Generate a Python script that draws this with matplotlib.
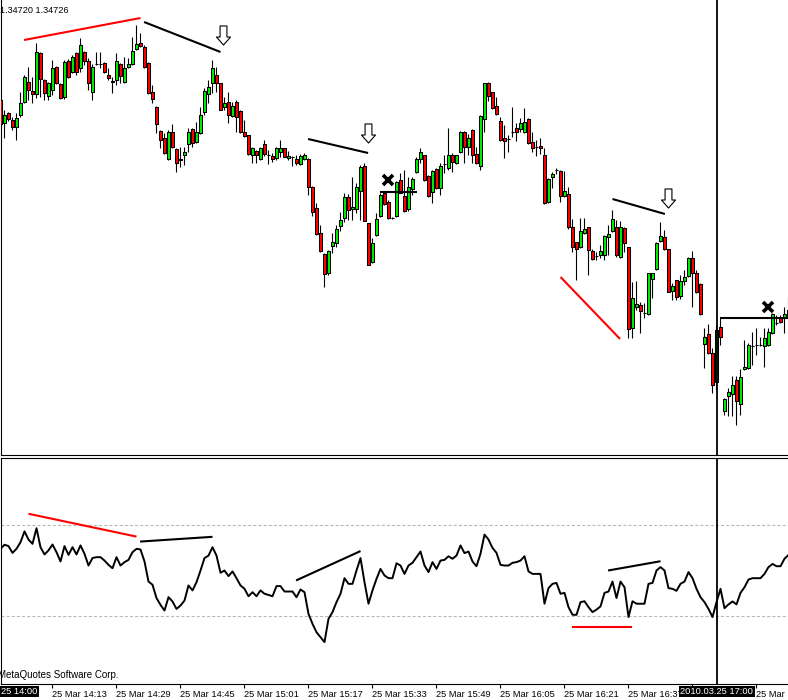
import matplotlib
matplotlib.use("Agg")
import matplotlib.pyplot as plt
import numpy as np
from matplotlib.path import Path
from matplotlib.patches import Rectangle
from matplotlib.collections import PatchCollection
import matplotlib.transforms as mtransforms

plt.rcParams['font.family'] = ['Liberation Sans', 'DejaVu Sans']
plt.rcParams['lines.scale_dashes'] = False

# ---------------- data ----------------
BASE_PRICE = 1.34575      # price = BASE_PRICE + points * POINT
POINT = 0.00001
START = "14:00"           # first 1-minute bar, 25 Mar 2010

open_pts = [360,337,347,340,333,345,358,378,369,366, 407,380,364,370,393,376,363,399,388,407,
            392,408,399,368,396,396,397,385,379,380, 396,378,393,396,411,417,413,397,368,353,
            329,322,301,328,311,301,305,316,331,318, 327,348,366,377,385,377,353,358,344,358,
            349,328,325,305,309,301,316,305,304,302, 308,312,302,303,301,296,301,301,273,252,
            227,206,187,214,217,234,242,263,251,251, 269,294,237,198,225,244,267,258,242,244,
            280,264,251,271,288,301,305,284,268,291, 272,296,292,305,297,308,328,313,330,306,
            294,341,377,368,354,339,322,321,328,332, 331,328,341,318,313,314,305,258,283,290,
            289,264,266,233,218,213,227,233,209,204, 205,205,223,229,233,203,232,213,132,153,
            155,147,146,181,191,219,223,211,169,180, 164,179,184,202,187,176,116,126,107,78,
            133,49,64,66,80,56,91,92,114,115, 115,114,115,127,137,142,143,144]
high_pts = [362,350,348,343,347,368,385,393,383,417, 408,381,378,400,394,377,400,401,405,408,
            422,409,402,396,408,408,398,392,383,407, 397,403,402,423,435,427,415,398,375,354,
            330,327,330,336,312,313,313,332,332,338, 353,372,380,400,393,377,363,368,358,360,
            350,340,325,313,310,313,320,310,307,313, 320,312,309,304,305,306,307,302,274,257,
            235,207,210,227,235,248,267,266,283,277, 295,297,237,222,247,267,268,260,243,279,
            287,290,283,283,303,312,305,285,290,292, 297,305,332,307,305,329,329,326,331,313,
            345,377,378,368,363,343,335,325,353,337, 342,352,342,328,320,322,312,282,288,292,
            290,289,273,241,218,242,242,233,211,208, 215,225,235,250,240,239,233,213,178,179,
            158,157,187,187,218,238,230,211,177,180, 185,190,203,209,190,177,132,136,112,135,
            142,62,72,84,84,91,120,117,128,132, 123,132,132,147,145,145,153,163]
low_pts = [333,322,339,330,320,343,357,360,357,362, 363,360,360,365,376,361,361,382,387,385,
           388,395,370,360,395,392,387,380,367,375, 377,377,392,395,410,413,392,366,357,327,
           312,306,300,312,288,293,295,308,313,317, 326,345,357,367,368,350,350,337,343,328,
           327,323,305,297,297,300,304,296,298,300, 303,303,300,294,295,295,300,265,244,225,
           208,173,185,207,213,229,238,240,240,247, 240,239,195,197,224,243,255,241,241,243,
           267,248,249,265,287,297,279,263,257,271, 265,287,290,288,296,307,297,305,297,296,
           290,328,359,351,345,319,302,308,323,319, 328,327,316,308,304,306,256,257,272,286,
           258,263,231,208,180,212,226,185,200,200, 202,200,205,228,203,202,208,122,122,150,
           127,142,145,162,190,218,210,168,160,160, 161,175,183,153,167,145,92,106,67,70,
           115,45,44,44,35,45,90,91,95,105, 114,93,114,126,135,137,127,143]
close_pts = [336,345,341,333,342,357,383,370,366,408, 381,367,377,392,377,362,398,383,403,388,
             415,399,377,393,396,396,388,382,378,399, 384,392,396,409,416,414,393,367,361,336,
             320,307,328,313,297,300,308,328,317,328, 345,369,373,392,377,350,357,345,354,343,
             328,324,306,312,305,312,306,305,301,312, 312,303,304,303,297,304,305,273,248,226,
             209,186,209,218,231,240,263,250,253,273, 293,239,195,217,241,265,256,242,242,278,
             267,249,273,281,301,308,280,264,289,272, 294,296,305,298,305,328,313,322,305,297,
             344,377,364,352,346,320,319,321,328,328, 337,338,317,312,313,312,257,281,286,290,
             264,269,233,213,211,229,231,210,201,204, 209,224,226,241,205,233,217,131,162,156,
             149,147,187,187,217,224,211,168,174,163, 179,183,202,187,168,146,123,107,75,130,
             123,61,68,75,59,83,93,115,114,115, 115,122,128,146,137,138,146,150]

# RSI(14) values, one per bar
rsi = [59.6,61.4,60.8,57.8,59.6,62.5,67.3,63.7,61.8,68.7, 60.3,57.1,58.9,61.5,58.1,54.0,60.8,56.9,60.3,57.1,
       61.1,57.4,52.2,55.5,55.9,55.9,54.4,52.5,51.0,55.9, 52.2,53.7,54.7,58.1,59.6,59.3,54.0,45.1,43.7,37.8,
       34.8,32.3,38.2,36.3,33.0,34.5,36.7,43.4,41.2,44.8, 50.0,55.5,56.6,60.3,56.6,49.0,50.0,47.5,49.6,46.6,
       43.4,41.9,38.6,40.4,38.6,41.2,39.7,39.2,38.6,43.1, 43.1,40.7,40.7,40.7,38.2,41.6,40.4,30.8,26.4,22.7,
       20.5,18.3,28.6,31.6,36.0,39.7,46.6,44.1,44.1,50.0, 55.5,44.8,35.3,41.2,46.3,50.7,47.8,46.6,46.6,53.2,
       52.2,48.5,52.2,53.4,55.9,58.4,52.2,49.3,53.7,50.7, 54.4,54.7,56.3,55.2,56.6,61.1,57.7,58.4,54.0,51.9,
       57.4,65.9,63.7,60.0,57.8,52.5,52.2,52.2,53.4,53.7, 54.4,56.3,49.6,48.5,48.5,48.5,35.3,42.2,44.1,44.5,
       39.7,40.1,33.8,30.4,30.4,36.0,36.4,33.8,31.6,32.7, 34.1,40.1,40.7,45.1,37.8,45.1,42.6,29.4,36.4,35.3,
       35.3,35.3,44.1,44.5,50.0,51.5,50.0,42.2,41.9,41.0, 44.1,45.1,49.3,46.6,41.9,38.2,36.0,33.0,29.4,36.0,
       41.9,33.3,35.0,36.3,35.0,40.1,42.6,46.0,46.6,46.6, 46.6,48.5,51.5,52.9,51.9,51.9,55.2,56.9]
rsi_levels = [70, 30]

tick_times = ["14:13", "14:29", "14:45", "15:01", "15:17", "15:33",
              "15:49", "16:05", "16:21", "16:37", "16:53", "17:09"]
tick_date = "25 Mar"
first_label = "25 14:00"
crosshair_bar = 179.1
crosshair_label = "2010.03.25 17:00"
price_header = "1.34720 1.34726"
copyright_text = "MetaQuotes Software Corp."

# chart objects (bar index, points) drawn on the price window
price_trendlines = [(5.9, 420, 35.0, 442, "red"),
                    (35.9, 438, 55.0, 408, "black"),
                    (76.9, 321, 91.9, 307, "black"),
                    (95.0, 268, 104.2, 268, "black"),
                    (140.0, 183, 154.9, 121, "red"),
                    (153.0, 261, 166.1, 246, "black"),
                    (180.0, 142, 197.5, 142, "black")]
arrow_points = [(55.7, 424.5), (92.0, 326.5), (167.0, 262.0)]
cross_points = [(96.8, 280), (191.8, 153)]
# chart objects (bar index, RSI) drawn on the indicator window
rsi_trendlines = [(7.0, 75.1, 34.0, 65.0, "red"),
                  (34.9, 62.8, 53.0, 64.9, "black"),
                  (73.9, 45.6, 90.0, 58.6, "black"),
                  (151.9, 50.0, 165.0, 54.1, "black"),
                  (143.0, 24.9, 158.0, 24.9, "red")]

# ---------------- figure ----------------
W, H = 788, 700
fig = plt.figure(figsize=(W / 100, H / 100), dpi=100)


def px_rect(left, top, right, bottom):
    return [left / W, 1 - bottom / H, (right - left) / W, (bottom - top) / H]


ax1 = fig.add_axes(px_rect(0.5, 0, 788.5, 455))
ax2 = fig.add_axes(px_rect(0.5, 457.5, 788.5, 683.5), sharex=ax1)

def to_price(v):
    return BASE_PRICE + np.asarray(v, dtype=float) * POINT

o = to_price(open_pts)
h = to_price(high_pts)
l = to_price(low_pts)
c = to_price(close_pts)
idx = np.arange(len(close_pts))

# wicks
ax1.vlines(idx, l, h, color="black", lw=0.8, zorder=2)
# bodies
bw = 0.66
rects, cols = [], []
for i in idx:
    lo_, hi_ = min(o[i], c[i]), max(o[i], c[i])
    rects.append(Rectangle((i - bw / 2, lo_), bw, hi_ - lo_))
    cols.append("#00ee00" if c[i] > o[i] else ("#ff0000" if c[i] < o[i] else "black"))
pc = PatchCollection(rects, facecolors=cols, edgecolors="black", linewidths=0.75, zorder=3)
ax1.add_collection(pc)

for x0, y0, x1, y1, col in price_trendlines:
    ax1.plot([x0, x1], to_price([y0, y1]), color=col, lw=1.5, zorder=4, solid_capstyle="butt")

arrow_path = Path([(-0.18, 0.5), (0.18, 0.5), (0.18, -0.08), (0.37, -0.08), (0.0, -0.5),
                   (-0.37, -0.08), (-0.18, -0.08), (-0.18, 0.5)],
                  [Path.MOVETO] + [Path.LINETO] * 6 + [Path.CLOSEPOLY])
for x, y in arrow_points:
    ax1.plot([x], [to_price(y)], marker=arrow_path, ms=13.7, mfc="white", mec="black",
             mew=0.8, ls="none", zorder=5)
for x, y in cross_points:
    ax1.plot([x], [to_price(y)], marker="x", ms=7.5, mec="black", mew=2.6, ls="none", zorder=5)

ax1.axvline(crosshair_bar, color="black", lw=1.3, zorder=6)
ax1.set_xlim(0, 197)
ax1.set_ylim(to_price(5), to_price(460))

# indicator window
for lev in rsi_levels:
    ax2.axhline(lev, color="#b8b8b8", lw=0.8, dashes=(2.2, 1.5), zorder=1)
ax2.plot(idx, rsi, color="black", lw=1.4, zorder=3)
for x0, y0, x1, y1, col in rsi_trendlines:
    ax2.plot([x0, x1], [y0, y1], color=col, lw=1.5, zorder=4, solid_capstyle="butt")
ax2.axvline(crosshair_bar, color="black", lw=1.3, zorder=6)
ax2.set_ylim(0, 100)

# spines / ticks
for ax in (ax1, ax2):
    for s in ax.spines.values():
        s.set_linewidth(0.8)
        s.set_color("black")
    ax.spines["right"].set_visible(False)
    ax.set_yticks([])
ax1.spines["top"].set_visible(False)
ax1.tick_params(axis="x", which="both", bottom=False, labelbottom=False)

def minutes(t):
    hh, mm = t.split(":")
    return int(hh) * 60 + int(mm)

tick_idx = [minutes(t) - minutes(START) for t in tick_times]
ax2.set_xticks(tick_idx)
ax2.set_xticklabels([f"{tick_date} {t}" for t in tick_times], fontsize=6.7, ha="left")
ax2.tick_params(axis="x", direction="out", length=3, width=0.8, pad=1.5, colors="black")
ax2.set_xlim(0, 197)

trans = mtransforms.blended_transform_factory(ax2.transData, ax2.transAxes)
ax2.text(crosshair_bar, -0.035, crosshair_label, transform=trans, ha="center", va="center",
         fontsize=6.7, color="white", clip_on=False, zorder=10,
         bbox=dict(boxstyle="square,pad=0.15", fc="black", ec="none"))
ax2.text(0.1, -0.035, first_label, transform=trans, ha="left", va="center",
         fontsize=6.7, color="white", clip_on=False, zorder=10,
         bbox=dict(boxstyle="square,pad=0.15", fc="black", ec="none"))

fig.text(-2 / W, 1 - 675 / H, copyright_text, fontsize=7, va="center", ha="left")
fig.text(0.5 / W, 1 - 10.5 / H, price_header, fontsize=6.6, va="center", ha="left")

fig.savefig("out.png", dpi=100)
